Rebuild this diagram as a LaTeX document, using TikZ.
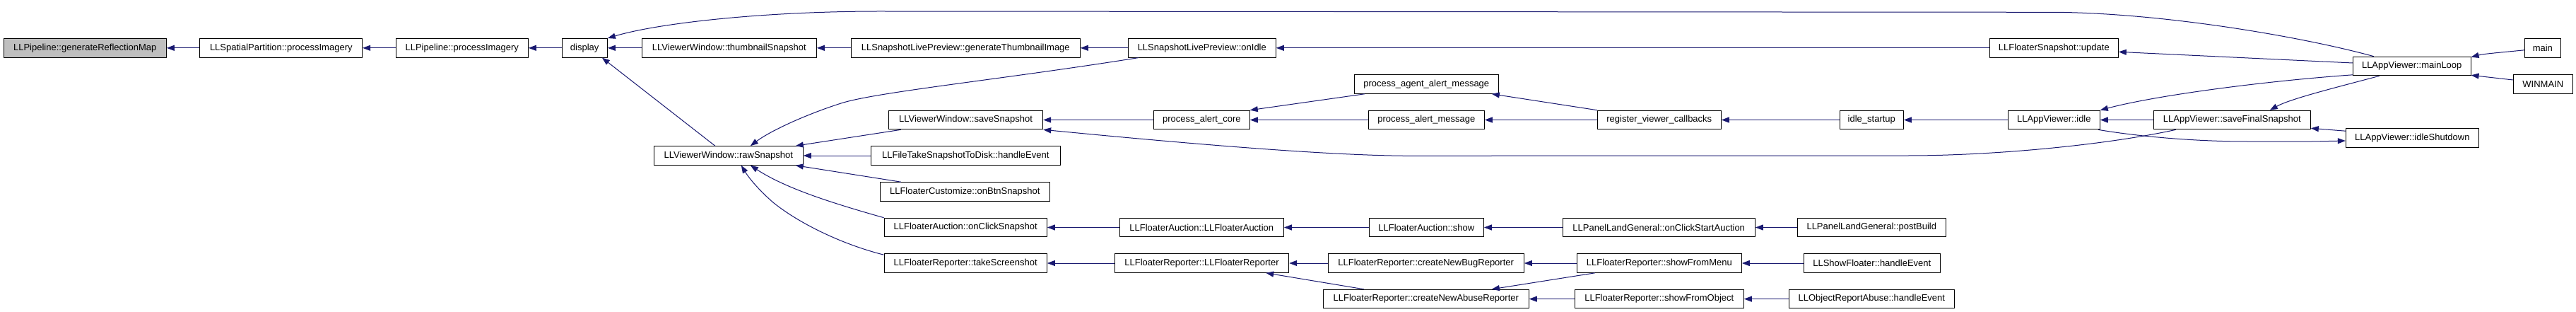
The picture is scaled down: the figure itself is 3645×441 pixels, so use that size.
\documentclass[tikz,border=0pt]{standalone}
\usepackage{fontspec}
\setmainfont{Liberation Sans}
\usetikzlibrary{arrows.meta,calc}
\definecolor{edgeblue}{HTML}{191970}
\definecolor{boxgray}{HTML}{BFBFBF}
\begin{document}
\begin{tikzpicture}[x=1pt,y=-1pt,
  box/.style={draw=black, line width=1pt, fill=white, minimum height=26.6pt, inner sep=0pt, font=\fontsize{13}{15}\selectfont},
  edge/.style={draw=edgeblue, line width=1pt, -{Triangle[length=11pt,width=8pt]}}]
\useasboundingbox[fill=white] (0,0) rectangle (3645,441);
% row A
\node[box,fill=boxgray,minimum width=230pt] (gen) at (120.3,67.8) {LLPipeline::generateReflectionMap};
\node[box,minimum width=229.7pt] (spp) at (397.8,67.8) {LLSpatialPartition::processImagery};
\node[box,minimum width=187pt] (ppi) at (653.8,67.8) {LLPipeline::processImagery};
\node[box,minimum width=64.3pt] (display) at (827.2,67.8) {display};
\node[box,minimum width=247pt] (thumb) at (1031.8,67.8) {LLViewerWindow::thumbnailSnapshot};
\node[box,minimum width=324pt] (genthumb) at (1366.3,67.8) {LLSnapshotLivePreview::generateThumbnailImage};
\node[box,minimum width=209pt] (onidle) at (1700.8,67.8) {LLSnapshotLivePreview::onIdle};
\node[box,minimum width=182pt] (fsupdate) at (2906.3,67.8) {LLFloaterSnapshot::update};
\node[box,minimum width=166.7pt] (mainloop) at (3412.7,93.5) {LLAppViewer::mainLoop};
\node[box,minimum width=51pt] (main) at (3597.8,67.8) {main};
\node[box,minimum width=84pt] (winmain) at (3598.3,119) {WINMAIN};
\node[box,minimum width=204pt] (paam) at (2018.3,119) {process\_agent\_alert\_message};
% row B
\node[box,minimum width=218.4pt] (savesnap) at (1366.5,169.5) {LLViewerWindow::saveSnapshot};
\node[box,minimum width=136pt] (pac) at (1700.3,169.5) {process\_alert\_core};
\node[box,minimum width=164pt] (pam) at (2018.3,169.5) {process\_alert\_message};
\node[box,minimum width=175pt] (rvc) at (2347.8,169.5) {register\_viewer\_callbacks};
\node[box,minimum width=90pt] (idlestart) at (2648.3,169.5) {idle\_startup};
\node[box,minimum width=130pt] (appidle) at (2906.3,169.5) {LLAppViewer::idle};
\node[box,minimum width=222pt] (sfs) at (3158.3,169.5) {LLAppViewer::saveFinalSnapshot};
\node[box,minimum width=188pt] (idleshut) at (3413.3,195) {LLAppViewer::idleShutdown};
% raw row
\node[box,minimum width=211pt] (raw) at (1030.8,220) {LLViewerWindow::rawSnapshot};
\node[box,minimum width=268pt] (ftstd) at (1366.3,220) {LLFileTakeSnapshotToDisk::handleEvent};
\node[box,minimum width=240pt] (onbtn) at (1365.3,271) {LLFloaterCustomize::onBtnSnapshot};
% row C
\node[box,minimum width=230.3pt] (onclick) at (1366.2,321.5) {LLFloaterAuction::onClickSnapshot};
\node[box,minimum width=232pt] (fauction) at (1700.3,321.5) {LLFloaterAuction::LLFloaterAuction};
\node[box,minimum width=162pt] (fashow) at (2018.3,321.5) {LLFloaterAuction::show};
\node[box,minimum width=272.3pt] (ocsa) at (2347.2,321.5) {LLPanelLandGeneral::onClickStartAuction};
\node[box,minimum width=210pt] (postbuild) at (2648.3,321.5) {LLPanelLandGeneral::postBuild};
% row D
\node[box,minimum width=230.3pt] (takess) at (1366.2,372) {LLFloaterReporter::takeScreenshot};
\node[box,minimum width=246.4pt] (freporter) at (1700.5,372) {LLFloaterReporter::LLFloaterReporter};
\node[box,minimum width=277.3pt] (cnbr) at (2017.7,372) {LLFloaterReporter::createNewBugReporter};
\node[box,minimum width=233pt] (sfmenu) at (2347.8,372) {LLFloaterReporter::showFromMenu};
\node[box,minimum width=193pt] (showfl) at (2648.8,372) {LLShowFloater::handleEvent};
% row E
\node[box,minimum width=291pt] (cnar) at (2017.8,422.6) {LLFloaterReporter::createNewAbuseReporter};
\node[box,minimum width=239pt] (sfobj) at (2347.8,422.6) {LLFloaterReporter::showFromObject};
\node[box,minimum width=234pt] (ora) at (2648.3,422.6) {LLObjectReportAbuse::handleEvent};

% straight edges
\draw[edge] (spp.west) -- (gen.east);
\draw[edge] (ppi.west) -- (spp.east);
\draw[edge] (display.west) -- (ppi.east);
\draw[edge] (thumb.west) -- (display.east);
\draw[edge] (genthumb.west) -- (thumb.east);
\draw[edge] (onidle.west) -- (genthumb.east);
\draw[edge] (fsupdate.west) -- (onidle.east);
\draw[edge] (pac.west) -- (savesnap.east);
\draw[edge] (pam.west) -- (pac.east);
\draw[edge] (rvc.west) -- (pam.east);
\draw[edge] (idlestart.west) -- (rvc.east);
\draw[edge] (appidle.west) -- (idlestart.east);
\draw[edge] (sfs.west) -- (appidle.east);
\draw[edge] (ftstd.west) -- (raw.east);
\draw[edge] (fauction.west) -- (onclick.east);
\draw[edge] (fashow.west) -- (fauction.east);
\draw[edge] (ocsa.west) -- (fashow.east);
\draw[edge] (postbuild.west) -- (ocsa.east);
\draw[edge] (freporter.west) -- (takess.east);
\draw[edge] (cnbr.west) -- (freporter.east);
\draw[edge] (sfmenu.west) -- (cnbr.east);
\draw[edge] (showfl.west) -- (sfmenu.east);
\draw[edge] (sfobj.west) -- (cnar.east);
\draw[edge] (ora.west) -- (sfobj.east);

% slanted / curved edges
\draw[edge] ($(mainloop.north west)+(30,0)$) .. controls (3250,50) and (3050,17.3) .. (2900,17.3)
  -- (1250,16) .. controls (1080,15.7) and (930,33) .. (display.north east);
\draw[edge] ($(raw.north west)+(87,0)$) -- ($(display.south east)+(-8,0)$);
\draw[edge] ($(onidle.south west)+(15,0)$) .. controls (1420,112) and (1240,130) .. (1190,146)
  .. controls (1140,162) and (1090,185) .. ($(raw.north)+(31,0)$);
\draw[edge] ($(savesnap.south west)+(18,0)$) -- ($(raw.north east)+(-11,0)$);
\draw[edge] ($(onbtn.north west)+(30,0)$) -- ($(raw.south east)+(-11,0)$);
\draw[edge] (onclick.north west) .. controls (1170,285) and (1110,265) .. ($(raw.south)+(31,0)$);
\draw[edge] ($(takess.north west)+(0,2)$) .. controls (1190,345) and (1130,315) .. (1095,287)
  .. controls (1075,270) and (1060,252) .. ($(raw.south)+(18,0)$);
\draw[edge] ($(sfs.south west)+(32,0)$) .. controls (2980,205) and (2820,220) .. (2700,220)
  -- (1990,220.3) .. controls (1880,219.5) and (1700,205) .. (savesnap.south east);
\draw[edge] ($(paam.south west)+(15,0)$) -- (pac.north east);
\draw[edge] (rvc.north west) -- ($(paam.south east)+(-10,0)$);
\draw[edge] ($(mainloop.west)+(0,-4.5)$) -- ($(fsupdate.east)+(0,5.5)$);
\draw[edge] ($(mainloop.south west)+(0,-1.5)$) .. controls (3200,115) and (3050,135) .. (appidle.north east);
\draw[edge] ($(mainloop.south west)+(38,0)$) .. controls (3300,125) and (3240,140) .. ($(sfs.north west)+(165,0)$);
\draw[edge] ($(appidle.south east)+(-3,0)$) .. controls (3020,192) and (3100,200) .. (3180,200)
  -- (3271,200) -- ($(idleshut.west)+(0,4)$);
\draw[edge] ($(idleshut.north west)+(0,4)$) -- ($(sfs.south east)+(0,-2)$);
\draw[edge] ($(main.west)+(0,3)$) .. controls (3530,75) and (3515,76) .. ($(mainloop.north east)+(0,1)$);
\draw[edge] ($(winmain.west)+(0,-6)$) -- ($(mainloop.south east)+(0,-1)$);
\draw[edge] ($(cnar.north west)+(58,0)$) -- ($(freporter.south east)+(-33,0)$);
\draw[edge] ($(sfmenu.south west)+(26,0)$) -- ($(cnar.north east)+(-53,0)$);
\end{tikzpicture}
\end{document}
